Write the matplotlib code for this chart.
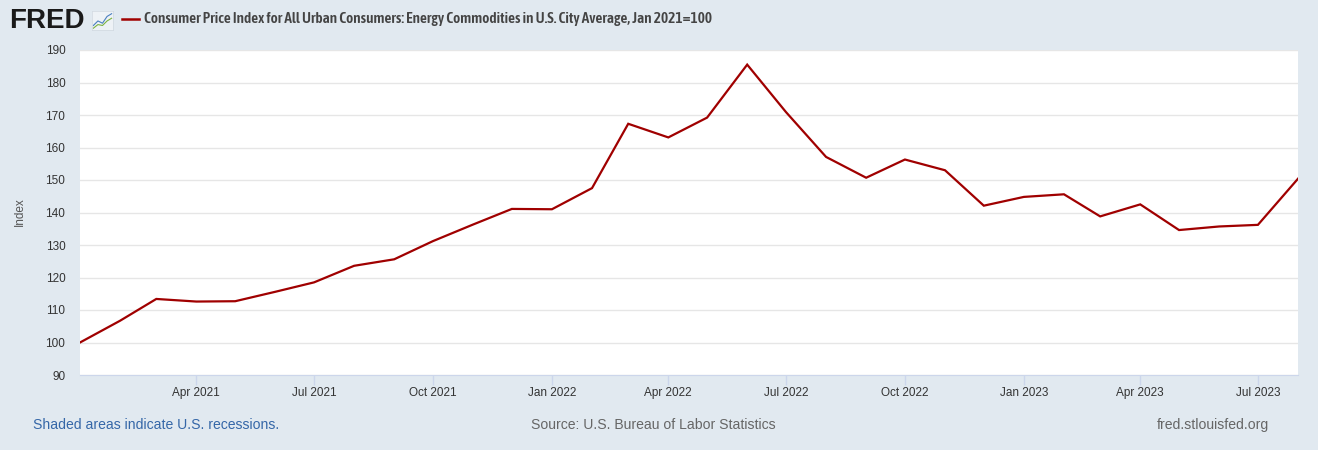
import matplotlib
matplotlib.use("Agg")
import matplotlib.pyplot as plt
from matplotlib import font_manager
from datetime import date

# monthly CPI energy commodities, Jan 2021=100
months = [date(2021 + (i // 12), i % 12 + 1, 1) for i in range(32)]
cpi = [100.0, 106.7, 113.4, 112.6, 112.7, 115.6, 118.5, 123.6, 125.6, 131.2, 136.3, 141.1,
       141.0, 147.5, 167.3, 163.1, 169.2, 185.5, 170.9, 157.1, 150.7, 156.3, 153.0, 142.1,
       144.8, 145.6, 138.8, 142.5, 134.6, 135.7, 136.2, 150.4]
tick_dates = [date(2021, 4, 1), date(2021, 7, 1), date(2021, 10, 1), date(2022, 1, 1),
              date(2022, 4, 1), date(2022, 7, 1), date(2022, 10, 1), date(2023, 1, 1),
              date(2023, 4, 1), date(2023, 7, 1)]
tick_labels = ["Apr 2021", "Jul 2021", "Oct 2021", "Jan 2022", "Apr 2022", "Jul 2022",
               "Oct 2022", "Jan 2023", "Apr 2023", "Jul 2023"]
y_ticks = list(range(90, 191, 10))

title = "Consumer Price Index for All Urban Consumers: Energy Commodities in U.S. City Average, Jan 2021=100"

W, H = 1318, 450
bg = "#e1e9f0"
red = "#a00000"


def narrow_font():
    # look for some condensed / narrow bold face, else plain Liberation Sans bold
    best = None
    for f in font_manager.fontManager.ttflist:
        nm = f.name.lower()
        st = f.stretch
        narrow = ("narrow" in nm or "condensed" in nm or
                  (isinstance(st, str) and "condensed" in st) or
                  (isinstance(st, (int, float)) and st < 500))
        if not narrow:
            continue
        w = f.weight if isinstance(f.weight, (int, float)) else 700 if "bold" in str(f.weight) else 400
        score = -abs(w - 600)
        if best is None or score > best[0]:
            best = (score, f.fname)
    if best:
        return font_manager.FontProperties(fname=best[1])
    return font_manager.FontProperties(family="Liberation Sans", weight="bold")


fig = plt.figure(figsize=(W / 100, H / 100), dpi=100)
fig.patch.set_facecolor(bg)

# plot area: x 80..1298, y 50..375 (pixels from top)
ax = fig.add_axes([80 / W, 1 - 375 / H, 1218 / W, 325 / H])
ax.set_facecolor("white")
ax.plot(months, cpi, color=red, lw=1.6, solid_joinstyle="miter")

ax.set_xlim(months[0], months[-1])
ax.set_ylim(90, 190)
ax.set_yticks(y_ticks)
ax.set_xticks(tick_dates)
ax.set_xticklabels(tick_labels)
ax.grid(axis="y", color="#e6e6e6", lw=1)
ax.set_axisbelow(True)
for s in ["top", "right", "left"]:
    ax.spines[s].set_visible(False)
ax.spines["bottom"].set_color("#ccd6eb")
ax.tick_params(axis="y", length=0, pad=10.5, labelsize=8.5, labelcolor="#333333")
ax.tick_params(axis="x", length=7, width=1, color="#ccd6eb", pad=1.5, labelsize=8.5,
               labelcolor="#333333")
for lab in ax.get_xticklabels() + ax.get_yticklabels():
    lab.set_family("Liberation Sans")

fig.text(20 / W, 1 - 212 / H, "Index", fontsize=8.5, color="#555555", rotation=90,
         va="center", ha="center", family="Liberation Sans")

# header: logo
fig.text(9 / W, 1 - 21 / H, "FRED", fontsize=20, fontweight="bold", color="#1a1a1a",
         va="center", ha="left", family="Liberation Sans")
icon = fig.add_axes([92 / W, 1 - 30 / H, 21 / W, 19 / H])
icon.set_facecolor("#eef2f6")
icon.plot([0, 1, 2, 3, 4], [1, 2, 1.5, 3, 3.6], color="#4a7fc0", lw=0.8)
icon.plot([0, 1, 2, 3, 4], [0.4, 1.2, 1.0, 2.0, 2.6], color="#7cb342", lw=0.8)
icon.set_xlim(-0.3, 4.3)
icon.set_ylim(0, 4.2)
icon.set_xticks([])
icon.set_yticks([])
for s in icon.spines.values():
    s.set_color("#d0d8e0")
    s.set_linewidth(0.5)

# header: legend line + title
fig.add_artist(plt.Line2D([122 / W, 139 / W], [1 - 19 / H, 1 - 19 / H], color=red, lw=1.8))
tfp = narrow_font()
tfp.set_size(9.5)
t = fig.text(144 / W, 1 - 19 / H, title, fontproperties=tfp, color="#444444",
             va="center", ha="left")
fig.canvas.draw()
wpx = t.get_window_extent().width
tfp.set_size(min(11.0, 9.5 * 589 / wpx))
t.set_fontproperties(tfp)

# footer
fig.text(33 / W, 1 - 425 / H, "Shaded areas indicate U.S. recessions.", fontsize=10.1,
         color="#3567a8", va="center", ha="left", family="Liberation Sans")
fig.text(653 / W, 1 - 425 / H, "Source: U.S. Bureau of Labor Statistics", fontsize=10.1,
         color="#666666", va="center", ha="center", family="Liberation Sans")
fig.text(1269 / W, 1 - 425 / H, "fred.stlouisfed.org", fontsize=10.1,
         color="#666666", va="center", ha="right", family="Liberation Sans")

fig.savefig("out.png", dpi=100, facecolor=bg)
